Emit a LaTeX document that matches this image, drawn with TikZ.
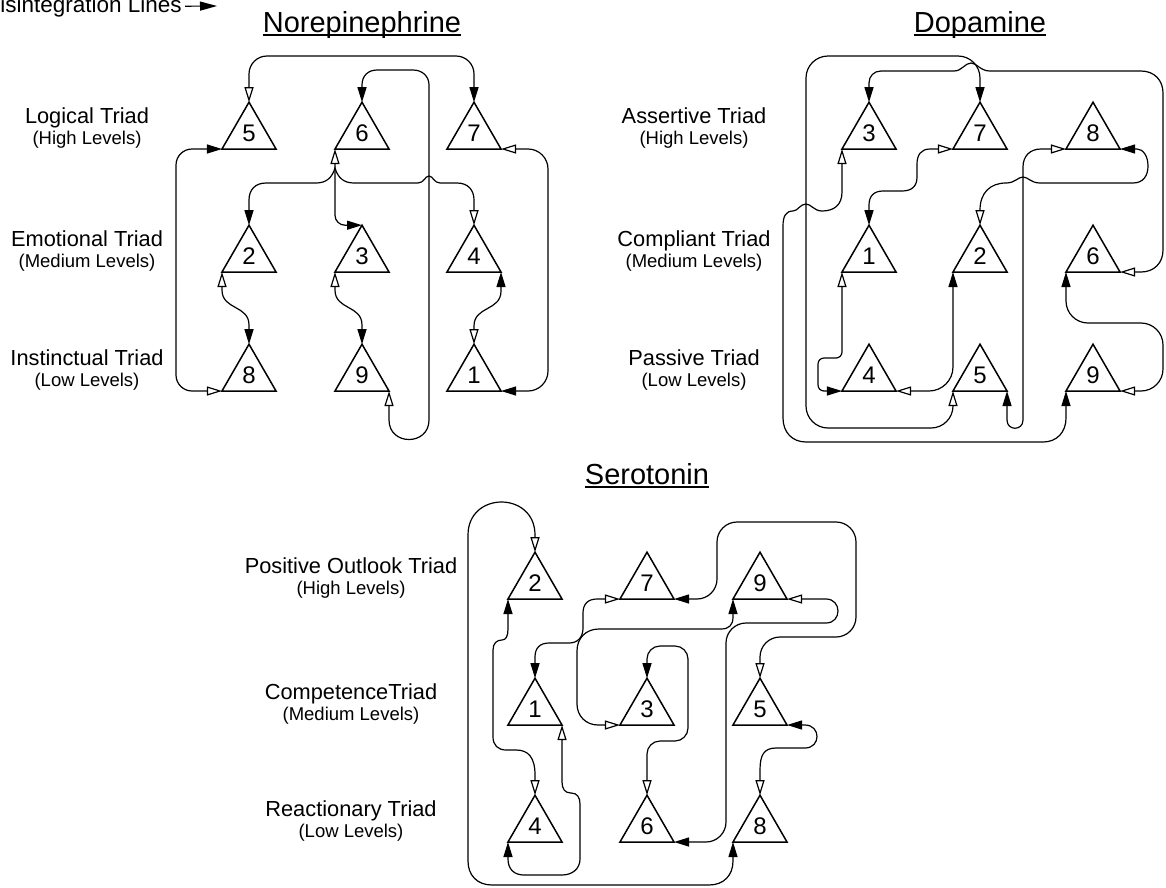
\documentclass[tikz,border=0pt]{standalone}
\usepackage{fontspec}
\setmainfont{Liberation Sans}
\usetikzlibrary{shapes.geometric,arrows.meta}

\begin{document}
\begin{tikzpicture}[x=1pt,y=-1pt,
    triad/.style={draw, regular polygon, regular polygon sides=3, minimum size=62.4pt,
      inner sep=0pt, outer sep=0pt, line width=1.5pt, font=\fontsize{24}{24}\selectfont},
    disline/.style={line width=1.2pt, {Triangle[open,length=15pt,width=9pt]}-{Triangle[length=15pt,width=9pt]}},
    heading/.style={anchor=base, inner sep=0pt, font=\fontsize{29}{30}\selectfont},
    triadname/.style={anchor=base, inner sep=0pt, font=\fontsize{21.8}{24}\selectfont},
    triadlevel/.style={anchor=base, inner sep=0pt, font=\fontsize{18.5}{20}\selectfont}]
        \useasboundingbox (0,0) rectangle (1166,887);
        % Legend
        \node[anchor=base east, inner sep=0pt, font=\fontsize{22.5}{24}\selectfont] (dislab) at (182,12) {Disintegration Lines};
        \coordinate (disend) at (217,6);
        \draw[line width=1.2pt, -{Triangle[length=17pt,width=9pt]}] ([xshift=3pt]dislab.east) -- (disend);
        % Headings
        \node[heading] (tnor) at (362,32) {Norepinephrine};
        \node[heading] (tdop) at (980,32) {Dopamine};
        \node[heading] (tser) at (647,484) {Serotonin};
        \foreach \t in {tnor,tdop,tser}
            \draw[line width=1.3pt] ([yshift=-3pt]\t.base west) -- ([yshift=-3pt]\t.base east);
        % Row labels
        \foreach \i/\txt/\lvl/\y in {1/Logical Triad/High Levels/149, 2/Emotional Triad/Medium Levels/272, 3/Instinctual Triad/Low Levels/391} {
            \node[triadname] (nname\i) at (87,\y-26) {\txt};
            \node[triadlevel] (nlevel\i) at (87,\y-5) {(\lvl)};
        }
        \foreach \i/\txt/\lvl/\y in {1/Assertive Triad/High Levels/149, 2/Compliant Triad/Medium Levels/272, 3/Passive Triad/Low Levels/391} {
            \node[triadname] (dname\i) at (694,\y-26) {\txt};
            \node[triadlevel] (dlevel\i) at (694,\y-5) {(\lvl)};
        }
        \foreach \i/\txt/\lvl/\y in {1/Positive Outlook Triad/High Levels/599, 2/CompetenceTriad/Medium Levels/725, 3/Reactionary Triad/Low Levels/842} {
            \node[triadname] (sname\i) at (351,\y-26) {\txt};
            \node[triadlevel] (slevel\i) at (351,\y-5) {(\lvl)};
        }
        % Triangles
        \foreach \num/\x/\y in {5/249/133.4, 6/362/133.4, 7/474/133.4, 2/249/256.4, 3/362/256.4, 4/474/256.4, 8/249/375.4, 9/362/375.4, 1/474/375.4}
            \node[triad] (n\num) at (\x,\y) {\num};
        \foreach \num/\x/\y in {3/869/133.4, 7/980/133.4, 8/1093/133.4, 1/869/256.4, 2/980/256.4, 6/1093/256.4, 4/869/375.4, 5/980/375.4, 9/1093/375.4}
            \node[triad] (d\num) at (\x,\y) {\num};
        \foreach \num/\x/\y in {2/535/583.4, 7/647/583.4, 9/760/583.4, 1/535/709.4, 3/647/709.4, 5/760/709.4, 4/535/826.4, 6/647/826.4, 8/760/826.4}
            \node[triad] (s\num) at (\x,\y) {\num};
        % Norepinephrine lines
        \draw[disline, rounded corners=18] (n5.corner 1) |- (474,56) -- (n7.corner 1);
        \draw[disline] (n9.corner 3) -- (389,420) .. controls (389,446) and (429,446) .. (429,420) -- (429,85) .. controls (429,76) and (422,70) .. (413,70) -- (377,70) .. controls (368,70) and (362,76) .. (362,85) -- (n6.corner 1);
        \draw[disline] (n4.corner 1) -- (474,200) .. controls (474,190) and (468,183) .. (457,183) -- (440,183) .. controls (434,183) and (433,176) .. (429,176) .. controls (425,176) and (424,183) .. (418,183) -- (354,183) .. controls (344,183) and (338,178) .. (335,168) .. controls (332,178) and (326,183) .. (316,183) -- (266,183) .. controls (255,183) and (249,190) .. (249,200) -- (n2.corner 1);
        \draw[disline, rounded corners=10] (n6.corner 2) |- (n3.corner 1);
        \draw[disline] (n2.corner 2) -- (222,290) .. controls (222,310) and (249,305) .. (249,325) -- (n8.corner 1);
        \draw[disline] (n3.corner 2) -- (335,290) .. controls (335,310) and (362,305) .. (362,325) -- (n9.corner 1);
        \draw[disline] (n1.corner 1) -- (474,326) .. controls (474,306) and (501,311) .. (501,291) -- (n4.corner 3);
        \draw[disline, rounded corners=20] (n7.corner 3) -- (548,149) |- (n1.corner 3);
        \draw[disline, rounded corners=16] (n8.corner 2) -- (176,391) |- (n5.corner 2);
        % Dopamine lines
        \draw[disline, rounded corners=22] (d5.corner 2) -- (953,428) -- (806,428) -- (806,56) -- (980,56) -- (d7.corner 1);
        \draw[disline] (d6.corner 3) -- (1141,272) .. controls (1154,272) and (1163,263) .. (1163,250) -- (1163,93) .. controls (1163,80) and (1154,71) .. (1141,71) -- (990,71) .. controls (980,71) and (977,63) .. (971,63) .. controls (965,63) and (962,71) .. (954,71) -- (881,71) .. controls (874,71) and (869,76) .. (869,83) -- (d3.corner 1);
        \draw[disline] (d3.corner 2) -- (842,192) .. controls (842,205) and (834,211) .. (822,211) .. controls (814,211) and (811,204) .. (806,204) .. controls (800,204) and (798,211) .. (793,211) .. controls (786,211) and (783,216) .. (783,226) -- (783,418) .. controls (783,432) and (792,442) .. (806,442) -- (1043,442) .. controls (1057,442) and (1066,432) .. (1066,418) -- (d9.corner 2);
        \draw[disline] (d7.corner 2) -- (930,149) .. controls (921,149) and (917,155) .. (917,164) -- (917,177) .. controls (917,186) and (912,191) .. (902,191) -- (883,191) .. controls (874,191) and (869,196) .. (869,205) -- (d1.corner 1);
        \draw[disline] (d8.corner 2) -- (1041,149) .. controls (1030,149) and (1023,156) .. (1023,167) -- (1023,420) .. controls (1023,431) and (1007,431) .. (1007,420) -- (d5.corner 3);
        \draw[disline] (d2.corner 1) -- (980,210) .. controls (980,193) and (990,183) .. (1006,183) .. controls (1015,183) and (1018,177) .. (1023,177) .. controls (1028,177) and (1031,183) .. (1040,183) -- (1133,183) .. controls (1143,183) and (1148,176) .. (1148,166) .. controls (1148,156) and (1143,149) .. (1137,149) -- (d8.corner 3);
        \draw[disline, rounded corners=6] (d1.corner 2) -- (842,358) -- (818,358) -- (818,391) -- (d4.corner 2);
        \draw[disline, rounded corners=24] (d4.corner 3) -| (d2.corner 2);
        \draw[disline, rounded corners=22] (d9.corner 3) -- (1163,391) |- (1066,323) -- (d6.corner 2);
        % Serotonin lines
        \draw[disline] (s2.corner 1) -- (535,535) .. controls (535,491) and (468,491) .. (468,535) -- (468,861) .. controls (468,875) and (477,885) .. (492,885) -- (709,885) .. controls (724,885) and (733,875) .. (733,861) -- (s8.corner 2);
        \draw[disline] (s7.corner 2) -- (597,599) .. controls (588,599) and (583,604) .. (583,613) -- (583,628) .. controls (583,637) and (578,643) .. (569,643) -- (549,643) .. controls (540,643) and (535,648) .. (535,657) -- (s1.corner 1);
        \draw[disline, rounded corners=20] (s5.corner 1) |- (856,637) |- (717,522) |- (s7.corner 3);
        \draw[disline] (s3.corner 2) -- (598,725) .. controls (586,725) and (577,716) .. (577,704) -- (577,651) .. controls (577,638) and (586,629) .. (599,629) -- (721,629) .. controls (729,629) and (733,625) .. (733,617) -- (s9.corner 2);
        \draw[disline, rounded corners=13] (s6.corner 1) |- (688,741) |- (647,646) -- (s3.corner 1);
        \draw[disline] (s9.corner 3) -- (826,599) .. controls (842,599) and (842,623) .. (826,623) -- (746,623) .. controls (735,623) and (726,632) .. (726,643) -- (726,822) .. controls (726,833) and (717,842) .. (706,842) -- (s6.corner 3);
        \draw[disline] (s8.corner 1) -- (760,770) .. controls (760,755) and (764,748) .. (776,748) -- (805,748) .. controls (821,748) and (821,725) .. (805,725) -- (s5.corner 3);
        \draw[disline] (s1.corner 3) -- (562,782) .. controls (562,789) and (565,793) .. (571,793) .. controls (577,793) and (580,797) .. (580,804) -- (580,859) .. controls (580,869) and (572,875) .. (562,875) -- (524,875) .. controls (514,875) and (508,869) .. (508,859) -- (s4.corner 2);
        \draw[disline] (s4.corner 1) -- (535,775) .. controls (535,757) and (528,750) .. (516,750) -- (506,750) .. controls (498,750) and (493,745) .. (493,737) -- (493,650) .. controls (493,643) and (497,640) .. (502,640) .. controls (506,640) and (508,636) .. (508,629) -- (s2.corner 2);
\end{tikzpicture}
\end{document}
